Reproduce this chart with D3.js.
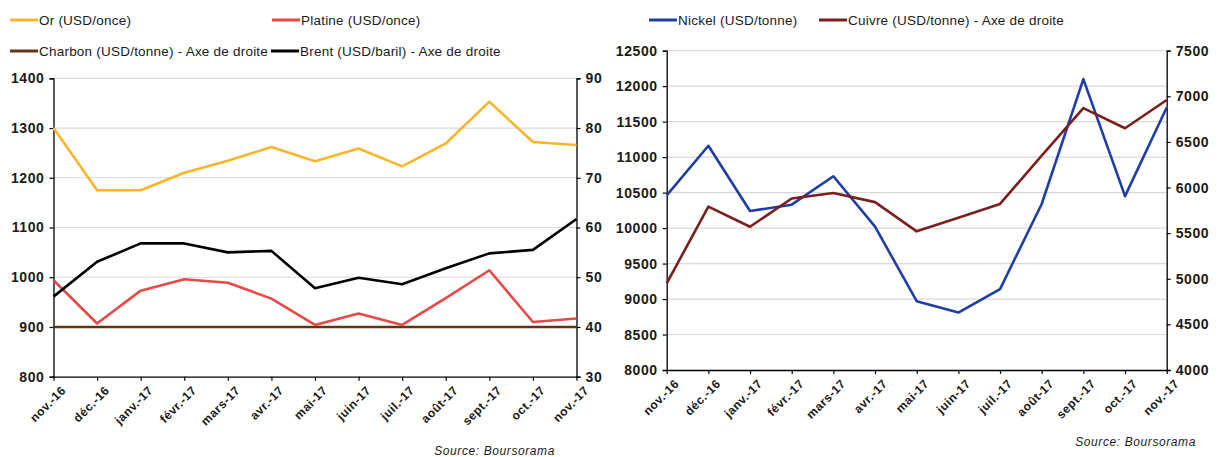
<!DOCTYPE html>
<html>
<head>
<meta charset="utf-8">
<script src="https://cdn.jsdelivr.net/npm/d3@7"></script>
<style>
  body { margin: 0; background: #fff; }
  svg { font-family: "Liberation Sans", Arial, sans-serif; }
</style>
</head>
<body>
<script>
// months on both panels
const months = ['nov.-16','déc.-16','janv.-17','févr.-17','mars-17','avr.-17','mai-17',
                'juin-17','juil.-17','août-17','sept.-17','oct.-17','nov.-17']

// left panel
const orVals      = [1300, 1175, 1175, 1210, 1234, 1262, 1233, 1259, 1223, 1269, 1353, 1272, 1266]
const platineVals = [994, 907, 973, 996, 989, 957, 904, 927, 904, 958, 1014, 910, 917]
const charbonVals = [40, 40, 40, 40, 40, 40, 40, 40, 40, 40, 40, 40, 40]
const brentVals   = [46.1, 53.1, 56.8, 56.8, 55.0, 55.3, 47.8, 49.9, 48.6, 51.8, 54.8, 55.5, 61.7]
const leftTicksL  = [800, 900, 1000, 1100, 1200, 1300, 1400]
const leftTicksR  = [30, 40, 50, 60, 70, 80, 90]

// right panel
const nickelVals = [10460, 11160, 10240, 10330, 10730, 10020, 8970, 8810, 9140, 10340, 12100, 10450, 11700]
const cuivreVals = [4950, 5790, 5570, 5880, 5940, 5840, 5520, 5670, 5820, 6350, 6870, 6650, 6960]
const rightTicksL = [8000, 8500, 9000, 9500, 10000, 10500, 11000, 11500, 12000, 12500]
const rightTicksR = [4000, 4500, 5000, 5500, 6000, 6500, 7000, 7500]

const W = 1220, H = 457
const svg = d3.select('body').append('svg').attr('width', W).attr('height', H)

function panel(cfg){
    const g = svg.append('g')
    const x = d3.scalePoint().domain(months).range([cfg.x0, cfg.x1])
    const yL = d3.scaleLinear().domain(d3.extent(cfg.ticksL)).range([cfg.y1, cfg.y0])
    const yR = d3.scaleLinear().domain(d3.extent(cfg.ticksR)).range([cfg.y1, cfg.y0])

    // gridlines
    g.selectAll('line.grid')
        .data(cfg.ticksL.slice(1))
        .enter()
        .append('line')
        .attr('x1', cfg.x0).attr('x2', cfg.x1)
        .attr('y1', d => yL(d)).attr('y2', d => yL(d))
        .attr('stroke', '#d9d9d9').attr('stroke-width', 1.2)

    const la = g.append('g')
        .attr('transform', 'translate(' + cfg.x0 + ',0)')
        .call(d3.axisLeft(yL).tickValues(cfg.ticksL).tickSize(4).tickPadding(5).tickFormat(d3.format('d')))
    const ra = g.append('g')
        .attr('transform', 'translate(' + cfg.x1 + ',0)')
        .call(d3.axisRight(yR).tickValues(cfg.ticksR).tickSize(4).tickPadding(5).tickFormat(d3.format('d')))
    const xa = g.append('g')
        .attr('transform', 'translate(0,' + cfg.y1 + ')')
        .call(d3.axisBottom(x).tickSize(4).tickSizeOuter(0).tickPadding(3))
    ;[la, ra, xa].forEach(a => {
        a.select('.domain').attr('stroke', '#000').attr('stroke-width', 1.3)
        a.selectAll('.tick line').attr('stroke', '#000').attr('stroke-width', 1.2)
        a.selectAll('text').attr('fill', '#1a1a1a').attr('font-size', '14px')
            .attr('font-weight', 'bold').attr('letter-spacing', '0.6px')
    })
    xa.selectAll('text')
        .attr('font-size', '12px')
        .attr('letter-spacing', '0.5px')
        .attr('text-anchor', 'end')
        .attr('dy', '0.3em')
        .attr('transform', 'translate(5,7) rotate(-45)')

    cfg.series.forEach(s => {
        const y = s.axis === 'R' ? yR : yL
        g.append('path')
            .datum(s.values)
            .attr('fill', 'none')
            .attr('stroke', s.color)
            .attr('stroke-width', 2.6)
            .attr('stroke-linejoin', 'round')
            .attr('d', d3.line().x((d, i) => x(months[i])).y(d => y(d)))
    })

    // legend
    cfg.legend.forEach(l => {
        g.append('line')
            .attr('x1', l.x).attr('x2', l.x + 28)
            .attr('y1', l.y).attr('y2', l.y)
            .attr('stroke', l.color).attr('stroke-width', 3)
        g.append('text')
            .attr('x', l.x + 29).attr('y', l.y)
            .attr('dy', '0.35em')
            .attr('font-size', '13.5px')
            .attr('fill', '#1a1a1a')
            .attr('letter-spacing', '0.22px')
            .text(l.text)
    })

    g.append('text')
        .attr('x', cfg.srcX).attr('y', cfg.srcY)
        .attr('text-anchor', 'end')
        .attr('font-size', '12px')
        .attr('font-style', 'italic')
        .attr('letter-spacing', '0.6px')
        .attr('fill', '#1a1a1a')
        .text('Source: Boursorama')
}

panel({
    x0: 53.5, x1: 576.5, y0: 78.3, y1: 376.7,
    ticksL: leftTicksL, ticksR: leftTicksR,
    series: [
        {values: charbonVals, axis: 'R', color: '#5e3610'},
        {values: orVals, axis: 'L', color: '#fbb52b'},
        {values: platineVals, axis: 'L', color: '#e84848'},
        {values: brentVals, axis: 'R', color: '#000000'}
    ],
    legend: [
        {x: 10, y: 20, color: '#fbb52b', text: 'Or (USD/once)'},
        {x: 272, y: 20, color: '#e84848', text: 'Platine (USD/once)'},
        {x: 10, y: 51, color: '#5e3610', text: 'Charbon (USD/tonne) - Axe de droite'},
        {x: 271, y: 51, color: '#000000', text: 'Brent (USD/baril) - Axe de droite'}
    ],
    srcX: 555, srcY: 455
})

panel({
    x0: 666.7, x1: 1166.7, y0: 50.7, y1: 370,
    ticksL: rightTicksL, ticksR: rightTicksR,
    series: [
        {values: nickelVals, axis: 'L', color: '#1f3da6'},
        {values: cuivreVals, axis: 'R', color: '#7a1e1e'}
    ],
    legend: [
        {x: 649, y: 20, color: '#1f3da6', text: 'Nickel (USD/tonne)'},
        {x: 819, y: 20, color: '#7a1e1e', text: 'Cuivre (USD/tonne) - Axe de droite'}
    ],
    srcX: 1196, srcY: 446
})
</script>
</body>
</html>
